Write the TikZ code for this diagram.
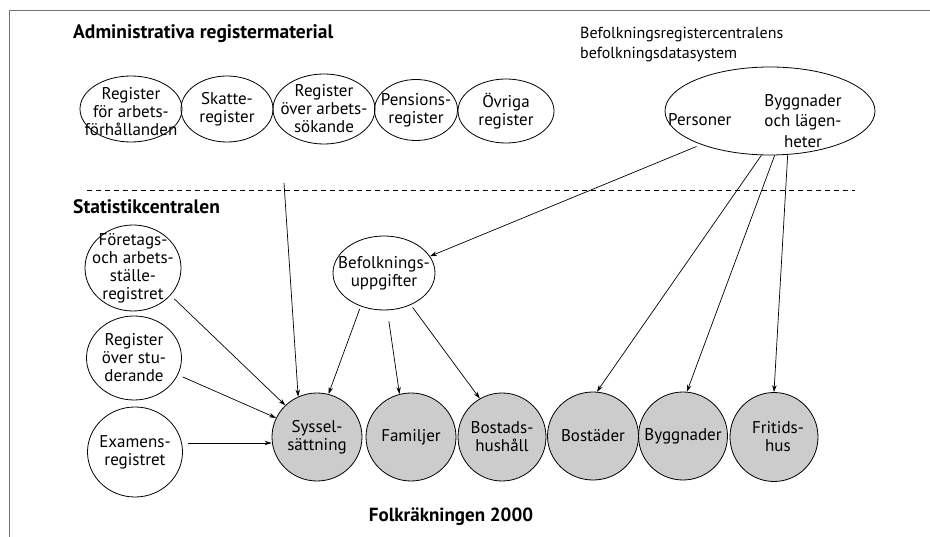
\documentclass[tikz,border=0pt]{standalone}
\usepackage{fontspec}
\setmainfont{PT Sans}
\usetikzlibrary{shapes.geometric,arrows.meta}
\begin{document}
\begin{tikzpicture}[x=1pt,y=-1pt,
  reg/.style={draw,ellipse,inner sep=0pt,line width=0.8pt},
  res/.style={reg,fill=black!20},
  txt/.style={inner sep=0pt,align=center,font=\fontsize{17}{18}\selectfont},
  head/.style={font=\fontsize{19.5}{21}\selectfont\bfseries,anchor=west,inner sep=0pt},
  arr/.style={line width=0.7pt,-{Stealth[length=7pt,width=4.5pt]}},
  ln/.style={line width=0.7pt}]
\useasboundingbox (0,0) rectangle (930,537);
% scanned frame edges
\draw[black!55,line width=0.6pt] (9,537) -- (9,10) -- (930,10);

% headings
\node[head] (h1) at (73,34) {Administrativa registermaterial};
\node[head] (h2) at (73,207) {Statistikcentralen};
\node[font=\fontsize{19}{21}\selectfont\bfseries,inner sep=0pt] (h3) at (451,517) {Folkräkningen 2000};
\node[txt,anchor=west,align=left,font=\fontsize{16}{20}\selectfont] (bt) at (580,45) {Befolkningsregistercentralens\\befolkningsdatasystem};

% top row
\node[reg,minimum width=102pt,minimum height=66pt] (a1) at (131,109) {};
\node[txt] at ([yshift=-3pt]a1.center) {Register\\för arbets-\\förhållanden};
\node[reg,minimum width=92pt,minimum height=66pt] (a2) at (227,109) {};
\node[txt] at (a2) {Skatte-\\register};
\node[reg,minimum width=102pt,minimum height=70pt] (a3) at (324,109) {};
\node[txt] at (a3) {Register\\över arbets-\\sökande};
\node[reg,minimum width=83pt,minimum height=61pt] (a4) at (416,110) {};
\node[txt] at (a4) {Pensions-\\register};
\node[reg,minimum width=96pt,minimum height=64pt] (a5) at (506,111) {};
\node[txt] at (a5) {Övriga\\register};

% population data system
\node[reg,minimum width=210pt,minimum height=88pt] (bef) at (770,111) {};
\node[txt,anchor=west] (pers) at (668,120) {Personer};
\node[txt,font=\fontsize{17}{20.5}\selectfont] (bygg) at (803,121) {Byggnader\\och lägen-\\heter};

% dashed divider
\coordinate (dl) at (87,190);
\coordinate (dr) at (855,190);
\draw[line width=0.7pt,dash pattern=on 5pt off 4pt] (dl) -- (dr);

% left column
\node[reg,minimum width=96pt,minimum height=86pt] (ftg) at (133,268) {};
\node[txt] at (ftg) {Företags-\\och arbets-\\ställe-\\registret};
\node[reg,minimum width=95pt,minimum height=84pt] (stud) at (134,358) {};
\node[txt] at (stud) {Register\\över stu-\\derande};
\node[reg,minimum width=95pt,minimum height=90pt] (exam) at (135,452) {};
\node[txt] at (exam) {Examens-\\registret};

% Befolkningsuppgifter
\node[reg,minimum width=102pt,minimum height=74pt] (bu) at (384,273) {};
\node[txt] at (bu) {Befolknings-\\uppgifter};

% result row
\node[res,minimum width=90pt,minimum height=88pt] (s1) at (317,437) {};
\node[txt] at (s1) {Syssel-\\sättning};
\node[res,minimum width=90pt,minimum height=88pt] (s2) at (411,437) {};
\node[txt] at (s2) {Familjer};
\node[res,minimum width=88pt,minimum height=88pt] (s3) at (502,437) {};
\node[txt] at (s3) {Bostads-\\hushåll};
\node[res,minimum width=91pt,minimum height=88pt] (s4) at (593,436) {};
\node[txt] at (s4) {Bostäder};
\node[res,minimum width=89pt,minimum height=88pt] (s5) at (683,436) {};
\node[txt] at (s5) {Byggnader};
\node[res,minimum width=88pt,minimum height=89pt] (s6) at (774,437) {};
\node[txt] at ([xshift=4pt]s6.center) {Fritids-\\hus};

% connectors
\coordinate (vtop) at (284,183);
\draw[arr] (vtop) -- (s1.115);
\draw[arr,shorten <=5pt] (ftg.-36) -- (s1.135);
\draw[arr,shorten <=5pt] (stud.-21) -- (s1.155);
\coordinate (e1) at ([yshift=9pt]exam.east);
\draw[arr,shorten <=5pt] (e1) -- (e1 -| s1.west);
\draw[arr,shorten <=3pt] (bu.235) -- (s1.75);
\draw[arr,shorten <=11pt] (bu.275) -- (s2.105);
\draw[arr,shorten <=3pt] (bu.310) -- (s3.120);
\draw[arr,shorten <=5pt] (bef.206) -- (bu.20);
\draw[arr] (bef.259) -- (s4.85);
\draw[arr] (bef.276) -- (s5.85);
\draw[arr] (bef.292) -- (s6.90);
\end{tikzpicture}
\end{document}
